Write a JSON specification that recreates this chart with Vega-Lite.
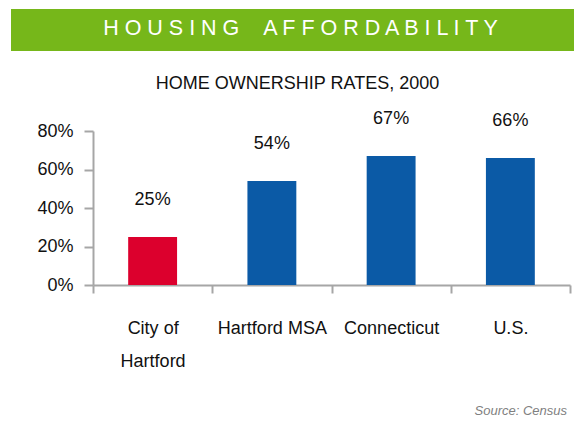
{
  "$schema": "https://vega.github.io/schema/vega-lite/v6.json",
  "padding": {"left": 11, "top": 9, "right": 0, "bottom": 0},
  "spacing": 24,
  "config": {
    "view": {"stroke": null},
    "font": "Liberation Sans, Arial, sans-serif"
  },
  "title": {
    "text": "Source: Census",
    "orient": "bottom",
    "anchor": "end",
    "fontSize": 13,
    "fontStyle": "italic",
    "fontWeight": "normal",
    "color": "#808080",
    "offset": 35,
    "dx": -7
  },
  "vconcat": [
    {
      "width": 563,
      "height": 42,
      "view": {"fill": "#76b71a", "stroke": null},
      "data": {"values": [{"banner": "H O U S I N G \u00a0 \u00a0A F F O R D A B I L I T Y"}]},
      "mark": {"type": "text", "color": "white", "fontSize": 21.5, "dx": 8, "dy": -1, "baseline": "middle", "align": "center"},
      "encoding": {"text": {"field": "banner"}}
    },
    {
      "width": 559,
      "height": 154,
      "title": {
        "text": "HOME OWNERSHIP RATES, 2000",
        "fontSize": 18,
        "fontWeight": "normal",
        "color": "#111111",
        "anchor": "middle",
        "frame": "group",
        "dx": 7,
        "offset": 17
      },
      "data": {
        "values": [
          {"Area": "City of Hartford", "Rate": 0.25},
          {"Area": "Hartford MSA", "Rate": 0.54},
          {"Area": "Connecticut", "Rate": 0.67},
          {"Area": "U.S.", "Rate": 0.66}
        ]
      },
      "encoding": {
        "x": {
          "field": "Area",
          "type": "nominal",
          "sort": null,
          "scale": {"paddingInner": 0, "paddingOuter": 0, "range": [82, 559]},
          "axis": {
            "title": null,
            "labelAngle": 0,
            "tickBand": "extent",
            "tickSize": 8,
            "tickWidth": 2,
            "tickColor": "#a6a6a6",
            "domainColor": "#a6a6a6",
            "domainWidth": 2,
            "labelFontSize": 18,
            "labelColor": "#111111",
            "labelPadding": 26,
            "labelLineHeight": 33,
            "labelExpr": "datum.value == 'City of Hartford' ? ['City of', 'Hartford'] : datum.value"
          }
        },
        "y": {
          "field": "Rate",
          "type": "quantitative",
          "scale": {"domain": [0, 0.8], "nice": false},
          "axis": {
            "title": null,
            "values": [0, 0.2, 0.4, 0.6, 0.8],
            "format": ".0%",
            "grid": false,
            "offset": -82,
            "tickSize": 9,
            "tickWidth": 2,
            "tickColor": "#a6a6a6",
            "domainColor": "#a6a6a6",
            "domainWidth": 2,
            "labelFontSize": 18,
            "labelColor": "#111111",
            "labelPadding": 11
          }
        }
      },
      "layer": [
        {
          "mark": {"type": "bar", "width": {"band": 0.41}},
          "encoding": {
            "color": {
              "field": "Area",
              "type": "nominal",
              "scale": {
                "domain": ["City of Hartford", "Hartford MSA", "Connecticut", "U.S."],
                "range": ["#dc002d", "#0b5aa6", "#0b5aa6", "#0b5aa6"]
              },
              "legend": null
            }
          }
        },
        {
          "mark": {"type": "text", "fontSize": 18, "color": "#111111", "dy": -37, "baseline": "middle"},
          "encoding": {
            "text": {"field": "Rate", "type": "quantitative", "format": ".0%"}
          }
        }
      ]
    }
  ]
}
